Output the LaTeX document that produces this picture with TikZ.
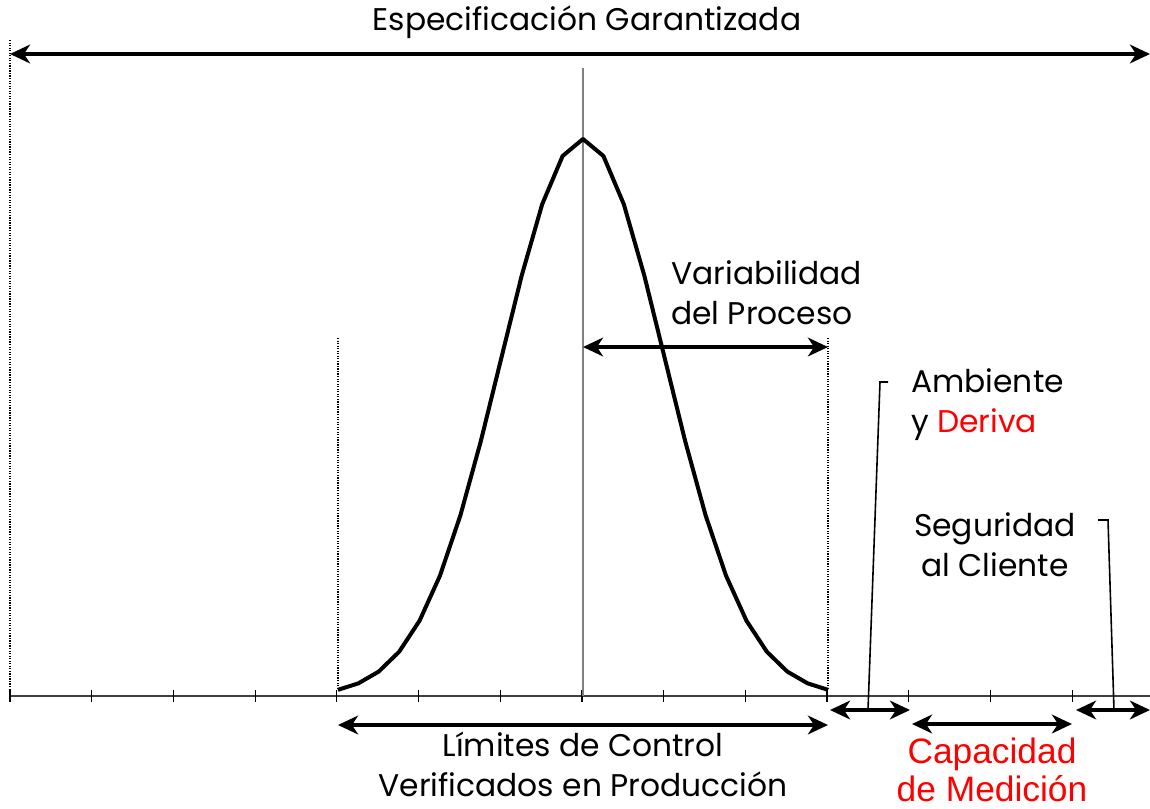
\documentclass[tikz,border=0pt]{standalone}
\usepackage{fontspec}
\setmainfont{Poppins}
\newfontfamily\arialfont{Liberation Sans}
\usetikzlibrary{arrows.meta}
\definecolor{rojo}{RGB}{255,0,0}
\tikzset{
  punta/.tip={Stealth[length=15pt,width=14pt,inset=4.5pt]},
  flecha/.style={line width=2.6pt,punta-punta},
  guia/.style={densely dotted,line width=0.9pt},
  texto/.style={inner sep=0pt,font=\fontsize{23.5}{30}\selectfont},
  llamada/.style={line width=1.2pt}
}
\begin{document}
\begin{tikzpicture}[x=0.75pt,y=-0.75pt]
\useasboundingbox (0,0) rectangle (1150,808);
% eje y marcas
\draw[line width=1pt,black!75](10,696)--(1150,696);
\foreach \i in {0,...,13}
  \draw[line width=0.9pt]({10+81.7*\i},690)--({10+81.7*\i},702);
% lineas guia
\draw[guia](10,40)--(10,696);
\draw[guia](338,338)--(338,690);
\draw[guia](828,338)--(828,690);
\draw[line width=1.1pt,gray](583,68)--(583,696);
% curva del proceso
\draw[line width=3pt,line join=round] plot[domain=-3:3,samples=25]
  ({583+81.7*\x},{696-557*exp(-0.5*(\x)^2)});
% especificacion
\coordinate (espIzq) at (10,54);
\coordinate (espDer) at (1150,54);
\draw[flecha](espIzq)--(espDer);
\node[texto] (especif) at (587,22) {Especificación Garantizada};
% variabilidad
\coordinate (varIzq) at (583,347);
\coordinate (varDer) at (828,347);
\draw[flecha](varIzq)--(varDer);
\node[texto,anchor=west,align=left] (variab) at (671,293) {Variabilidad\\del Proceso};
% limites de control
\coordinate (limIzq) at (338,725);
\coordinate (limDer) at (828,725);
\draw[flecha](limIzq)--(limDer);
\node[texto,align=center] (limites) at (583,764) {Límites de Control\\Verificados en Producción};
% ambiente y deriva
\coordinate (ambIzq) at (830,710);
\coordinate (ambDer) at (910,710);
\coordinate (ambPie) at (868,710);
\coordinate (ambCodo) at (880,382);
\coordinate (ambFin) at (888,382);
\draw[flecha](ambIzq)--(ambDer);
\draw[llamada](ambPie)--(ambCodo)--(ambFin);
\node[texto,anchor=west,align=left] (ambiente) at (911,405) {Ambiente\\y \textcolor{rojo}{Deriva}};
% capacidad de medicion
\coordinate (capIzq) at (912,724);
\coordinate (capDer) at (1072,724);
\draw[flecha](capIzq)--(capDer);
\node[texto,align=center,text=rojo,font=\arialfont\fontsize{26.5}{28}\selectfont] (capacidad) at (992,770) {Capacidad\\de Medición};
% seguridad al cliente
\coordinate (segIzq) at (1076,710);
\coordinate (segDer) at (1150,710);
\coordinate (segPie) at (1114,710);
\coordinate (segCodo) at (1108,520);
\coordinate (segFin) at (1098,520);
\draw[flecha](segIzq)--(segDer);
\draw[llamada](segPie)--(segCodo)--(segFin);
\node[texto,align=center] (seguridad) at (995,545) {Seguridad\\al Cliente};
\end{tikzpicture}
\end{document}
